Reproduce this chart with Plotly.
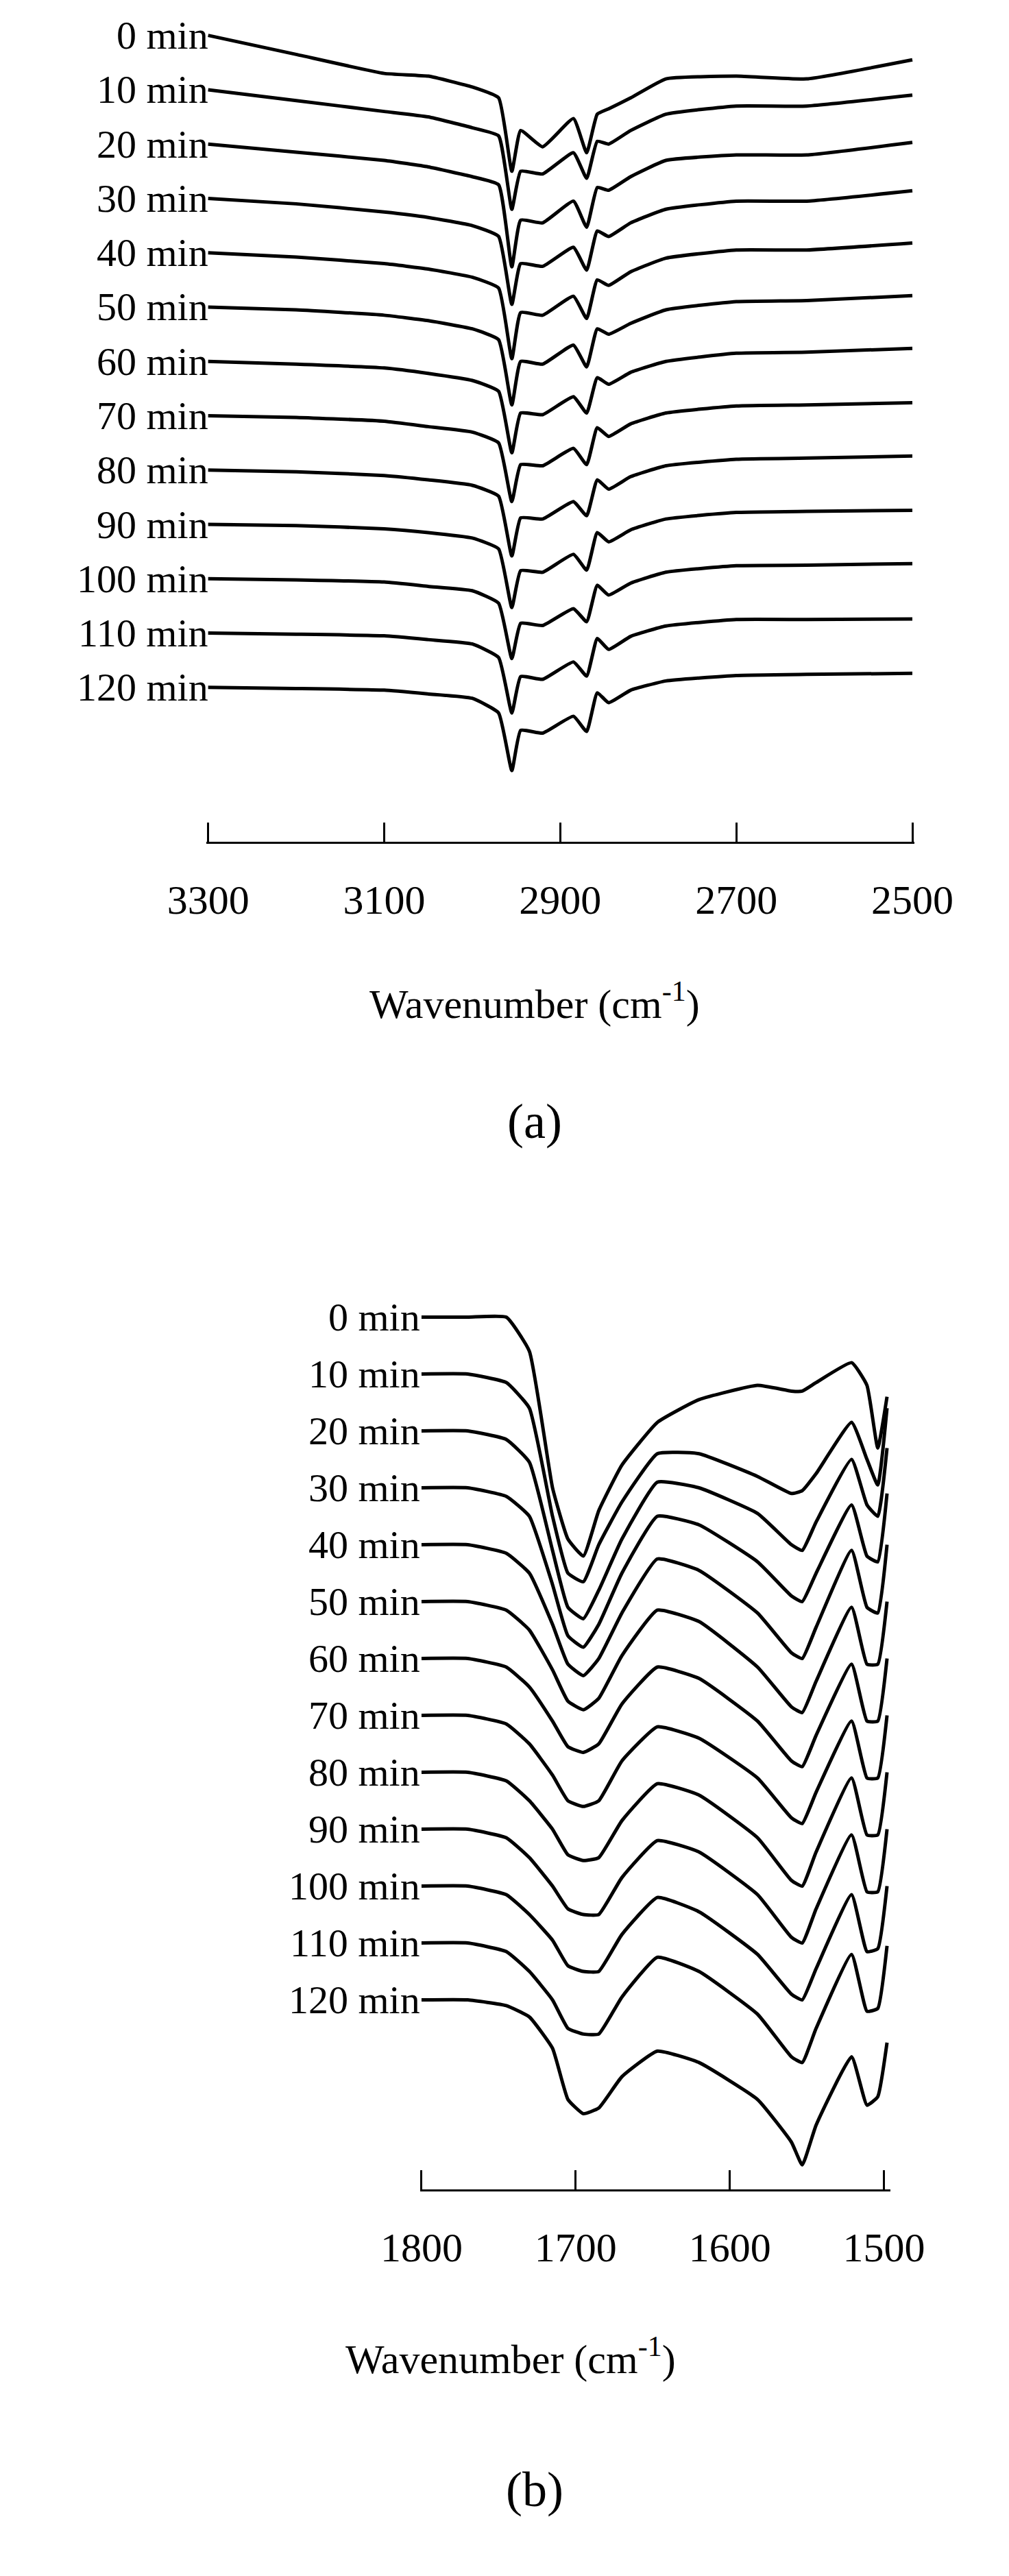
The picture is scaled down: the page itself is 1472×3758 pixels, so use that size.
import plotly.graph_objects as go

# time labels shared by both panels
times = ['0 min', '10 min', '20 min', '30 min', '40 min', '50 min', '60 min',
         '70 min', '80 min', '90 min', '100 min', '110 min', '120 min']

# panel (a): C-H stretch region, values relative to each curve's start (units of stack spacing)
wn_a = [3300, 3200, 3100, 3050, 3000, 2970, 2955, 2945, 2920, 2885, 2870, 2858, 2845, 2820, 2780, 2700, 2620, 2500]
spec_a_0 = [0, -0.35, -0.7, -0.75, -0.95, -1.15, -2.5, -1.75, -2.05, -1.53, -2.16, -1.45, -1.35, -1.15, -0.8, -0.75, -0.8, -0.45]
spec_a_10 = [0, -0.2, -0.4, -0.5, -0.7, -0.85, -2.2, -1.5, -1.55, -1.16, -1.63, -0.95, -1.0, -0.75, -0.45, -0.3, -0.3, -0.1]
spec_a_20 = [0, -0.15, -0.3, -0.42, -0.6, -0.75, -2.26, -1.4, -1.45, -1.05, -1.53, -0.8, -0.85, -0.6, -0.3, -0.2, -0.2, 0.03]
spec_a_30 = [0, -0.1, -0.25, -0.35, -0.5, -0.7, -1.95, -1.2, -1.25, -0.9, -1.32, -0.6, -0.7, -0.45, -0.2, -0.05, -0.05, 0.14]
spec_a_40 = [0, -0.08, -0.2, -0.3, -0.45, -0.65, -1.95, -1.1, -1.15, -0.8, -1.21, -0.5, -0.6, -0.35, -0.1, 0.05, 0.05, 0.18]
spec_a_50 = [0, -0.05, -0.15, -0.25, -0.4, -0.6, -1.8, -1.0, -1.05, -0.7, -1.1, -0.4, -0.5, -0.3, -0.05, 0.1, 0.12, 0.21]
spec_a_60 = [0, -0.05, -0.12, -0.22, -0.35, -0.55, -1.68, -0.95, -0.98, -0.65, -0.95, -0.3, -0.42, -0.2, 0.0, 0.15, 0.17, 0.24]
spec_a_70 = [0, -0.03, -0.1, -0.2, -0.3, -0.5, -1.58, -0.9, -0.92, -0.6, -0.9, -0.22, -0.38, -0.15, 0.05, 0.18, 0.2, 0.24]
spec_a_80 = [0, -0.03, -0.1, -0.18, -0.28, -0.48, -1.58, -0.88, -0.9, -0.58, -0.84, -0.18, -0.35, -0.12, 0.08, 0.2, 0.22, 0.26]
spec_a_90 = [0, -0.02, -0.08, -0.15, -0.25, -0.45, -1.53, -0.85, -0.88, -0.55, -0.84, -0.15, -0.32, -0.1, 0.1, 0.22, 0.24, 0.26]
spec_a_100 = [0, -0.02, -0.06, -0.14, -0.22, -0.45, -1.47, -0.82, -0.86, -0.55, -0.79, -0.12, -0.3, -0.08, 0.12, 0.24, 0.25, 0.28]
spec_a_110 = [0, -0.02, -0.05, -0.12, -0.2, -0.45, -1.47, -0.8, -0.85, -0.53, -0.79, -0.1, -0.3, -0.06, 0.13, 0.25, 0.25, 0.26]
spec_a_120 = [0, -0.02, -0.05, -0.12, -0.2, -0.47, -1.53, -0.79, -0.84, -0.53, -0.81, -0.1, -0.28, -0.05, 0.12, 0.22, 0.24, 0.26]
specs_a = [spec_a_0, spec_a_10, spec_a_20, spec_a_30, spec_a_40, spec_a_50, spec_a_60,
           spec_a_70, spec_a_80, spec_a_90, spec_a_100, spec_a_110, spec_a_120]

# panel (b): carbonyl / amide region
wn_b = [1800, 1770, 1745, 1730, 1715, 1705, 1695, 1685, 1670, 1647, 1620, 1582, 1560, 1553, 1544, 1521, 1511, 1504, 1498]
spec_b_0 = [0, 0, 0, -0.6, -3.0, -3.9, -4.2, -3.4, -2.6, -1.85, -1.45, -1.2, -1.3, -1.3, -1.15, -0.8, -1.2, -2.3, -1.4]
spec_b_10 = [0, 0, -0.15, -0.6, -2.5, -3.5, -3.65, -3.0, -2.25, -1.4, -1.4, -1.8, -2.1, -2.05, -1.75, -0.85, -1.5, -1.95, -0.6]
spec_b_20 = [0, 0, -0.15, -0.55, -2.1, -3.1, -3.3, -2.8, -1.9, -0.9, -1.0, -1.45, -2.0, -2.1, -1.6, -0.5, -1.3, -1.5, -0.3]
spec_b_30 = [0, 0, -0.15, -0.5, -1.7, -2.6, -2.8, -2.4, -1.5, -0.5, -0.65, -1.3, -1.9, -2.0, -1.5, -0.3, -1.2, -1.3, -0.1]
spec_b_40 = [0, 0, -0.15, -0.5, -1.4, -2.1, -2.3, -2.0, -1.2, -0.25, -0.45, -1.2, -1.9, -2.0, -1.45, -0.1, -1.1, -1.2, 0]
spec_b_50 = [0, 0, -0.15, -0.5, -1.2, -1.75, -1.9, -1.7, -0.95, -0.15, -0.35, -1.15, -1.85, -1.95, -1.4, -0.1, -1.1, -1.1, 0]
spec_b_60 = [0, 0, -0.15, -0.5, -1.1, -1.55, -1.65, -1.5, -0.8, -0.15, -0.35, -1.1, -1.8, -1.9, -1.35, -0.1, -1.1, -1.1, 0]
spec_b_70 = [0, 0, -0.15, -0.5, -1.05, -1.5, -1.6, -1.5, -0.8, -0.2, -0.4, -1.1, -1.8, -1.9, -1.35, -0.1, -1.1, -1.1, 0]
spec_b_80 = [0, 0, -0.15, -0.5, -1.0, -1.45, -1.55, -1.5, -0.85, -0.2, -0.4, -1.15, -1.9, -2.0, -1.4, -0.1, -1.1, -1.1, 0]
spec_b_90 = [0, 0, -0.15, -0.5, -1.0, -1.4, -1.5, -1.5, -0.85, -0.2, -0.4, -1.15, -1.9, -2.0, -1.4, -0.1, -1.1, -1.1, 0]
spec_b_100 = [0, 0, -0.15, -0.5, -0.95, -1.4, -1.5, -1.5, -0.85, -0.2, -0.45, -1.2, -1.9, -2.0, -1.45, -0.15, -1.15, -1.1, 0]
spec_b_110 = [0, 0, -0.15, -0.5, -1.0, -1.5, -1.6, -1.6, -0.95, -0.25, -0.5, -1.25, -2.0, -2.1, -1.5, -0.2, -1.2, -1.15, -0.05]
spec_b_120 = [0, 0, -0.1, -0.3, -0.85, -1.75, -2.0, -1.9, -1.35, -0.9, -1.1, -1.75, -2.5, -2.9, -2.2, -1.0, -1.85, -1.7, -0.75]
specs_b = [spec_b_0, spec_b_10, spec_b_20, spec_b_30, spec_b_40, spec_b_50, spec_b_60,
           spec_b_70, spec_b_80, spec_b_90, spec_b_100, spec_b_110, spec_b_120]

W, H = 1472, 3758
FONT = 'Liberation Serif'
line = dict(color='black', width=5, shape='spline', smoothing=0.4)

fig = go.Figure()
for i, s in enumerate(specs_a):
    fig.add_trace(go.Scatter(x=wn_a, y=[v - i for v in s], mode='lines', line=line,
                             xaxis='x', yaxis='y', showlegend=False))
for i, s in enumerate(specs_b):
    fig.add_trace(go.Scatter(x=wn_b, y=[v - i for v in s], mode='lines', line=line,
                             xaxis='x2', yaxis='y2', showlegend=False))

axis_common = dict(showline=True, linecolor='black', linewidth=3, ticks='inside',
                   ticklen=28, tickwidth=3, tickcolor='black', showgrid=False, zeroline=False,
                   tickfont=dict(family=FONT, size=60, color='black'), ticklabelstandoff=30)

fig.update_layout(
    width=W, height=H, margin=dict(l=0, r=0, t=0, b=0),
    paper_bgcolor='white', plot_bgcolor='white',
    xaxis=dict(domain=[255 / W, 1375 / W], range=[3302, 2498], anchor='y',
               tickvals=[3300, 3100, 2900, 2700, 2500], **axis_common),
    yaxis=dict(domain=[1 - 1220 / H, 1 - 4 / H], range=[-14.84, 0.5], visible=False),
    xaxis2=dict(domain=[593 / W, 1337 / W], range=[1801, 1496], anchor='y2',
                tickvals=[1800, 1700, 1600, 1500], **axis_common),
    yaxis2=dict(domain=[1 - 3186 / H, 1 - 1872 / H], range=[-15.33, 0.5], visible=False),
)

for i, t in enumerate(times):
    fig.add_annotation(text=t, x=260 / W, xref='paper', xanchor='right', y=-i, yref='y',
                       showarrow=False, font=dict(family=FONT, size=58, color='black'))
    fig.add_annotation(text=t, x=596 / W, xref='paper', xanchor='right', y=-i, yref='y2',
                       showarrow=False, font=dict(family=FONT, size=58, color='black'))

title = 'Wavenumber (cm<sup>-1</sup>)'
for txt, xc, yc, sz in [(title, 775, 1452, 60), ('(a)', 775, 1628, 72),
                        (title, 1000, 3469, 60), ('(b)', 775, 3666, 72)]:
    fig.add_annotation(text=txt, x=xc / W, y=1 - yc / H, xref='paper', yref='paper',
                       showarrow=False, font=dict(family=FONT, size=sz, color='black'))

fig.write_html('out.html')
